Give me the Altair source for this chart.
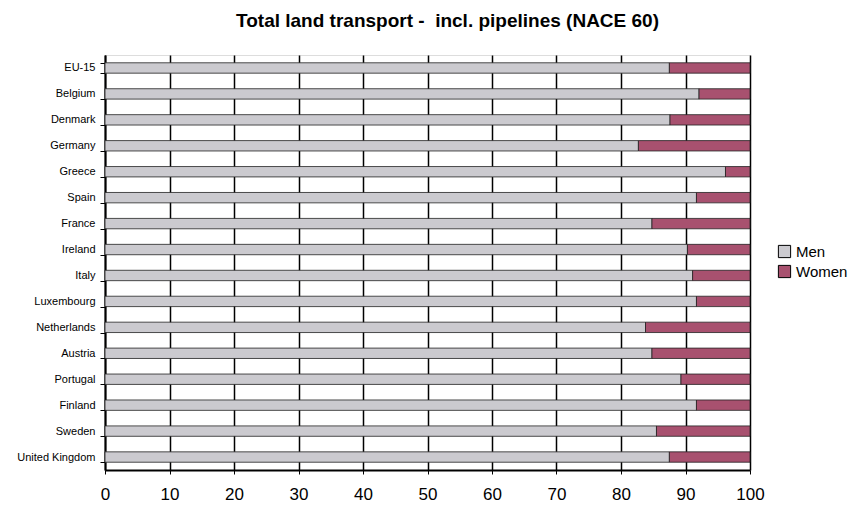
import altair as alt
import pandas as pd

countries = [
    "EU-15", "Belgium", "Denmark", "Germany", "Greece", "Spain", "France",
    "Ireland", "Italy", "Luxembourg", "Netherlands", "Austria", "Portugal",
    "Finland", "Sweden", "United Kingdom",
]
men = [87.5, 92.1, 87.6, 82.7, 96.2, 91.7, 84.8, 90.3, 91.1, 91.7, 83.8, 84.8,
       89.3, 91.7, 85.5, 87.5]
women = [12.5, 7.9, 12.4, 17.3, 3.8, 8.3, 15.2, 9.7, 8.9, 8.3, 16.2, 15.2,
         10.7, 8.3, 14.5, 12.5]
groups = ["Men", "Women"]
colors = ["#CBCACF", "#A8516F"]
x_ticks = list(range(0, 101, 10))

rows = []
for c, m, w in zip(countries, men, women):
    rows.append({"country": c, "sex": "Men", "share": m, "order": 0})
    rows.append({"country": c, "sex": "Women", "share": w, "order": 1})
df = pd.DataFrame(rows)

font = "Liberation Sans"

bars = alt.Chart(df).mark_bar(
    stroke="#222222", strokeWidth=0.8
).encode(
    y=alt.Y(
        "country:N",
        sort=countries,
        title=None,
        scale=alt.Scale(paddingInner=0.6, paddingOuter=0.3),
        axis=alt.Axis(
            tickBand="extent",
            labelFontSize=11,
            labelFont=font,
            labelColor="#000000",
            labelPadding=5,
            tickSize=5,
            tickColor="#000000",
            domainColor="#000000",
            domainWidth=2,
            grid=False,
        ),
    ),
    x=alt.X(
        "share:Q",
        stack="zero",
        title=None,
        scale=alt.Scale(domain=[0, 100], nice=False),
        axis=alt.Axis(
            values=x_ticks,
            labelFontSize=17,
            labelFont=font,
            labelColor="#000000",
            labelPadding=12,
            labelFlush=False,
            tickSize=4,
            tickColor="#000000",
            domainColor="#000000",
            domainWidth=2,
            grid=True,
            gridColor="#000000",
            gridWidth=1.5,
            gridOpacity=1,
        ),
    ),
    color=alt.Color(
        "sex:N",
        scale=alt.Scale(domain=groups, range=colors),
        legend=alt.Legend(
            title=None,
            orient="none",
            legendX=672,
            legendY=189,
            symbolType="square",
            symbolSize=150,
            symbolStrokeColor="#000000",
            symbolStrokeWidth=1,
            labelFontSize=15,
            labelFont=font,
            labelColor="#000000",
            rowPadding=3,
            labelOffset=4,
        ),
    ),
    order=alt.Order("order:Q"),
)

chart = bars.properties(
    width=645,
    height=415,
    autosize=alt.AutoSizeParams(type="none"),
    padding={"left": 105, "top": 55, "right": 114, "bottom": 39},
    title=alt.TitleParams(
        "Total land transport -\u00a0 incl. pipelines (NACE 60)",
        font=font,
        fontSize=19,
        fontWeight="bold",
        color="#000000",
        anchor="middle",
        dx=20,
        offset=18,
    ),
).configure_view(
    stroke="#000000", strokeWidth=2
).configure(background="#FFFFFF")

chart.save("out.html", embed_options={"renderer": "svg", "actions": False})
